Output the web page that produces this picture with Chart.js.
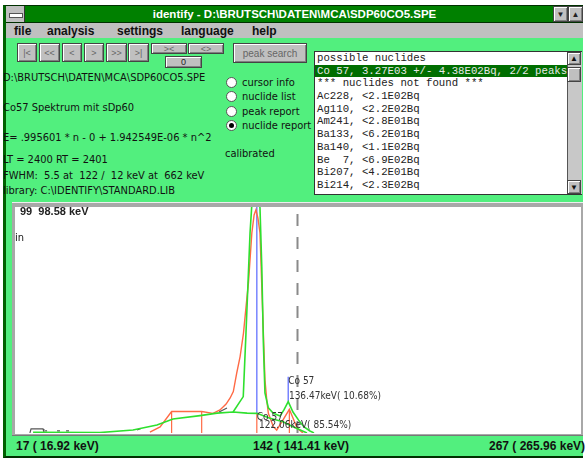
<!DOCTYPE html>
<html>
<head>
<meta charset="utf-8">
<script src="https://cdn.jsdelivr.net/npm/chart.js@4.4.0/dist/chart.umd.min.js"></script>
<style>
  body { margin: 0; width: 586px; height: 460px; background: #fff; position: relative; overflow: hidden;
         font-family: "Liberation Sans", Arial, sans-serif; }
  .a { position: absolute; }
  .narrow { font-family: "Liberation Sans Narrow", "DejaVu Sans Condensed", "Liberation Sans", sans-serif; font-size: 11px; color: #111; white-space: pre; }
  .btn { position: absolute; background: #c0c0c0; border: 1px solid #444; box-sizing: border-box;
         box-shadow: inset 1px 1px #fff, inset -1px -1px #808080; color: #666; font-size: 9px;
         display: flex; align-items: center; justify-content: center; }
  .radio { position: absolute; width: 11px; height: 11px; border-radius: 50%; background: #fff;
           border: 1px solid #555; box-sizing: border-box; }
  .radio.on::after { content: ""; position: absolute; left: 2px; top: 2px; width: 5px; height: 5px; border-radius: 50%; background: #000; }
  .menu { position: absolute; top: 24px; font-weight: bold; font-size: 12px; color: #111; }
  #list { left: 314px; top: 51px; width: 268px; height: 144px; background: #fff; border: 1px solid #333; box-sizing: border-box; overflow: hidden; }
  #list div { font-family: "Liberation Mono", "DejaVu Sans Mono", monospace; font-size: 10.7px; height: 12.7px; line-height: 12.7px; padding-left: 2px; white-space: pre; color: #222; }
  #list div.sel { background: #006e00; color: #e8e8e8; }
  .stat { position: absolute; top: 439px; font-weight: bold; font-size: 12px; color: #111; white-space: pre; }
</style>
</head>
<body>
<!-- window frame -->
<div class="a" style="left:3px;top:5px;width:580px;height:453px;background:#52ef7e;border-left:3px solid #006000;border-top:1px solid #003000;border-bottom:2px solid #003000;box-sizing:border-box;"></div>
<!-- title bar -->
<div class="a" style="left:6px;top:6px;width:577px;height:17px;background:#008000;border-bottom:1px solid #003000;box-sizing:border-box;color:#fff;font-weight:bold;font-size:11.5px;text-align:center;line-height:16px;">identify - D:\BRUTSCH\DATEN\MCA\SDP60CO5.SPE</div>
<div class="a" style="left:6px;top:6px;width:18px;height:16px;background:#c0c0c0;border-right:1px solid #333;"></div>
<div class="a" style="left:9px;top:13px;width:12px;height:3px;background:#fff;border:1px solid #555;"></div>
<div class="btn" style="left:553px;top:6px;width:15px;height:16px;color:#222;font-size:8px;">▼</div>
<div class="btn" style="left:568px;top:6px;width:15px;height:16px;color:#222;font-size:8px;">▲</div>
<!-- menu bar -->
<div class="a" style="left:6px;top:23px;width:577px;height:15px;background:#c0c0c0;"></div>
<div class="menu" style="left:14px;">file</div>
<div class="menu" style="left:47px;">analysis</div>
<div class="menu" style="left:117px;">settings</div>
<div class="menu" style="left:181px;">language</div>
<div class="menu" style="left:252px;">help</div>

<!-- navigation buttons -->
<div class="btn" style="left:17px;top:43px;width:20px;height:19px;">|&lt;</div>
<div class="btn" style="left:39px;top:43px;width:21px;height:19px;">&lt;&lt;</div>
<div class="btn" style="left:62px;top:43px;width:20px;height:19px;">&lt;</div>
<div class="btn" style="left:84px;top:43px;width:20px;height:19px;">&gt;</div>
<div class="btn" style="left:106px;top:43px;width:21px;height:19px;">&gt;&gt;</div>
<div class="btn" style="left:128px;top:43px;width:21px;height:19px;">&gt;|</div>
<div class="btn" style="left:151px;top:43px;width:36px;height:11px;">&gt;&lt;</div>
<div class="btn" style="left:188px;top:43px;width:36px;height:11px;">&lt;&gt;</div>
<div class="btn" style="left:165px;top:56px;width:37px;height:12px;color:#222;">0</div>
<div class="btn" style="left:233px;top:43px;width:74px;height:20px;font-size:10px;">peak search</div>

<!-- info texts -->
<div class="a narrow" style="left:3px;top:71px;">D:\BRUTSCH\DATEN\MCA\SDP60CO5.SPE</div>
<div class="a narrow" style="left:3px;top:101px;">Co57 Spektrum mit sDp60</div>
<div class="a narrow" style="left:3px;top:131px;">E= .995601 * n - 0 + 1.942549E-06 * n^2</div>
<div class="a narrow" style="left:3px;top:153px;">LT = 2400 RT = 2401</div>
<div class="a narrow" style="left:3px;top:169px;">FWHM:  5.5 at  122 /  12 keV at  662 keV</div>
<div class="a narrow" style="left:3px;top:184px;">library: C:\IDENTIFY\STANDARD.LIB</div>

<div class="radio" style="left:226px;top:77px;"></div>
<div class="radio" style="left:226px;top:91px;"></div>
<div class="radio" style="left:226px;top:106px;"></div>
<div class="radio on" style="left:226px;top:120px;"></div>
<div class="a narrow" style="left:242px;top:76px;">cursor info</div>
<div class="a narrow" style="left:242px;top:90px;">nuclide list</div>
<div class="a narrow" style="left:242px;top:105px;">peak report</div>
<div class="a narrow" style="left:242px;top:119px;">nuclide report</div>
<div class="a narrow" style="left:225px;top:147px;">calibrated</div>

<!-- nuclide list box -->
<div id="list" class="a">
  <div>possible nuclides</div>
  <div class="sel">Co 57, 3.27E03 +/- 4.38E02Bq, 2/2 peaks</div>
  <div>*** nuclides not found ***</div>
  <div>Ac228, &lt;2.1E02Bq</div>
  <div>Ag110, &lt;2.2E02Bq</div>
  <div>Am241, &lt;2.8E01Bq</div>
  <div>Ba133, &lt;6.2E01Bq</div>
  <div>Ba140, &lt;1.1E02Bq</div>
  <div>Be  7, &lt;6.9E02Bq</div>
  <div>Bi207, &lt;4.2E01Bq</div>
  <div>Bi214, &lt;2.3E02Bq</div>
</div>
<div class="a" style="left:567px;top:52px;width:14px;height:142px;background:#c8c8c8;border-left:1px solid #555;"></div>
<div class="btn" style="left:567px;top:52px;width:14px;height:13px;color:#111;font-size:8px;">▲</div>
<div class="btn" style="left:567px;top:67px;width:14px;height:15px;"></div>
<div class="btn" style="left:567px;top:180px;width:14px;height:14px;color:#111;font-size:8px;">▼</div>

<!-- plot frame -->
<div class="a" style="left:12px;top:202px;width:571px;height:234px;background:#a8a8a8;border-top:1px solid #eee;border-bottom:1px solid #777;box-sizing:border-box;"></div>
<div class="a" style="left:15px;top:207px;width:566px;height:227px;background:#fff;"></div>
<div class="a" style="left:15px;top:207px;width:565px;height:226px;">
  <canvas id="spectrum" width="565" height="226"></canvas>
</div>
<div class="a" style="left:20px;top:205px;font-weight:bold;font-size:11px;color:#222;white-space:pre;">99  98.58 keV</div>
<div class="a narrow" style="left:15px;top:231px;">in</div>

<!-- status bar -->
<div class="a" style="left:6px;top:436px;width:577px;height:20px;background:#52ef7e;"></div>
<div class="stat" style="left:16px;">17 ( 16.92 keV)</div>
<div class="stat" style="left:253px;">142 ( 141.41 keV)</div>
<div class="stat" style="left:489px;">267 ( 265.96 keV)</div>

<script>
// channel range shown
const chMin = 17;
const chMax = 267;

// continuum (lower green line)
const contCh  = [25.0, 54.6, 69.2, 79.8, 86.9, 98.9, 106.4, 113.5, 119.7, 124.1, 129.8, 135.6, 140.0, 146.2];
const contVal = [3, 2, 13, 35, 62, 77, 88, 93, 88, 87, 65, 50, 28, 0];

// peak fit (upper green line)
const fitCh  = [113.5, 118.0, 119.2, 120.1, 121.0, 121.7, 122.3, 123.6, 124.7, 125.4, 126.2, 126.9, 127.6, 129.1, 131.3, 134.3, 136.0, 137.9, 140.0, 142.4, 144.9, 147.5, 149.3];
const fitVal = [93, 161, 442, 664, 885, 996, 1075, 1120, 1075, 996, 736, 398, 177, 111, 87, 75, 102, 139, 93, 58, 27, 9, 0];

// measured spectrum (red)
const dataCh  = [76.7, 81.2, 86.3, 99.6, 104.6, 107.7, 110.4, 112.2, 113.6, 115.1, 116.6, 118.1, 119.3, 120.3, 121.8, 122.8, 123.6, 124.5, 125.4, 126.9, 127.6, 128.4, 129.1, 131.3, 132.8, 135.6, 138.4, 140.0, 141.8, 144.4];
const dataVal = [4, 27, 95, 95, 87, 102, 128, 155, 183, 265, 338, 442, 566, 664, 885, 965, 987, 951, 885, 442, 235, 146, 87, 28, 13, 58, 105, 66, 22, 0];

// raw counts visible under the other lines (dark)
const rawCh  = [23.6, 24.1, 29.4, 29.8, 30.0, 30.3, 31.2, 33.0, 35.6, 36.9, 38.0, 39.6, 40.9, 50.0, 71.0, 72.8, 90.0, 107.3, 110.8];
const rawVal = [0, 18, 18, 4, null, 9, 9, null, 9, 9, null, 9, 9, null, 13, 20, null, 93, 111];

// peak markers (red from base, blue above)
const markCh  = [86.3, 99.6, 124.0, 138.4];
const markVal = [95, 95, 88, 105];
const blueCh   = [124.0, 137.9];
const blueFrom = [88, 139];
const blueTo   = [1000, 249];

// cursor
const cursorCh = 142;

// nuclide labels
const labelText = ['Co 57', '136.47keV( 10.68%)', 'Co 57', '122.06keV( 85.54%)'];
const labelCh   = [137.9, 138.2, 124.0, 125.0];
const labelVal  = [230, 164, 71, 35];

const pts = (xs, ys) => xs.map((x, i) => ({ x: x, y: ys[i] }));

const datasets = [];
datasets.push({ data: pts(contCh, contVal), borderColor: '#2ee02e', borderWidth: 1.6 });
datasets.push({ data: pts(fitCh, fitVal), borderColor: '#2ee02e', borderWidth: 1.6 });
datasets.push({ data: pts(rawCh, rawVal), borderColor: '#555555', borderWidth: 1.2 });
datasets.push({ data: pts(dataCh, dataVal), borderColor: '#ff6a45', borderWidth: 1.4 });
markCh.forEach((c, i) => {
    datasets.push({ data: [{ x: c, y: 0 }, { x: c, y: markVal[i] }], borderColor: '#ff6a45', borderWidth: 1.2 });
});
blueCh.forEach((c, i) => {
    datasets.push({ data: [{ x: c, y: blueFrom[i] }, { x: c, y: blueTo[i] }], borderColor: '#6f7cff', borderWidth: 1.4 });
});
datasets.push({ data: [{ x: cursorCh, y: 0 }, { x: cursorCh, y: 1000 }], borderColor: '#8a8a8a', borderWidth: 2, borderDash: [12, 11] });

// nuclide label plugin
const labelPlugin = {
    id: 'nuclideLabels',
    afterDatasetsDraw(chart) {
        const ctx = chart.ctx;
        const xs = chart.scales.x, ys = chart.scales.y;
        ctx.save();
        ctx.font = '10px "Liberation Sans Narrow", "DejaVu Sans Condensed", sans-serif';
        ctx.fillStyle = '#333';
        ctx.textBaseline = 'middle';
        labelText.forEach((t, i) => {
            ctx.fillText(t, xs.getPixelForValue(labelCh[i]), ys.getPixelForValue(labelVal[i]));
        });
        ctx.restore();
    }
};

new Chart(document.getElementById('spectrum'), {
    type: 'line',
    data: { datasets: datasets },
    options: {
        responsive: false,
        animation: false,
        layout: { padding: 0 },
        elements: { point: { radius: 0, hoverRadius: 0 }, line: { tension: 0, fill: false } },
        plugins: { legend: { display: false }, tooltip: { enabled: false } },
        scales: {
            x: { type: 'linear', min: chMin, max: chMax, display: false },
            y: { min: 0, max: 1000, display: false }
        }
    },
    plugins: [labelPlugin]
});
</script>
</body>
</html>
